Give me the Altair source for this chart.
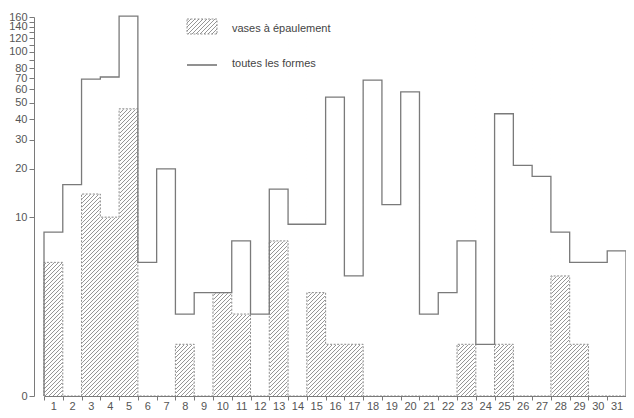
import urllib.parse
import altair as alt
import pandas as pd

# ---- data ----
bins = list(range(1, 32))
totals = [8, 16, 69, 71, 162, 5, 20, 2, 3, 3, 7, 2, 15, 9, 9, 54, 4, 68, 12, 58,
          2, 3, 7, 1, 43, 21, 18, 8, 5, 5, 6]
hatched = [5, 0, 14, 10, 46, 0, 0, 1, 0, 3, 2, 0, 7, 0, 3, 1, 1, 0, 0, 0,
           0, 0, 1, 0, 1, 0, 0, 4, 1, 0, 0]
y_ticks = [0, 10, 20, 30, 40, 50, 60, 70, 80, 90, 100, 110, 120, 130, 140, 150, 160]
y_labels = [0, 10, 20, 30, 40, 50, 60, 70, 80, 100, 120, 140, 160]
legend_labels = ["vases à épaulement", "toutes les formes"]
y_max = 160

W, H = 582, 379
FONT = "Liberation Sans"
LINE = "#7a7a7a"
HATCH = "#8a8a8a"


def hatch_url(w, h, color=HATCH):
    svg = (f"<svg xmlns='http://www.w3.org/2000/svg' width='{w}' height='{h}'>"
           f"<defs><pattern id='h' width='4' height='4' patternUnits='userSpaceOnUse'>"
           f"<path d='M-1,1 L1,-1 M0,4 L4,0 M3,5 L5,3' stroke='{color}' stroke-width='0.9'/>"
           f"</pattern></defs><rect width='{w}' height='{h}' fill='url(#h)'/></svg>")
    return "data:image/svg+xml," + urllib.parse.quote(svg)


def outline(vals):
    xs, ys = [bins[0] - 0.5], [0]
    for b, v in zip(bins, vals):
        xs += [b - 0.5, b + 0.5]
        ys += [v, v]
    xs.append(bins[-1] + 0.5)
    ys.append(0)
    return pd.DataFrame({"x": xs, "y": ys, "i": list(range(len(xs)))})


xs = alt.Scale(domain=[bins[0] - 0.5, bins[-1] + 0.5], nice=False, zero=False)
ys = alt.Scale(type="symlog", constant=1, domain=[0, y_max], nice=False)

half_vals = sorted([b - 0.5 for b in bins] + bins + [bins[-1] + 0.5])

x_axis = alt.Axis(
    values=half_vals, tickCount=500, title=None, grid=False,
    labelExpr="datum.value % 1 === 0 ? format(datum.value, 'd') : ''",
    tickOpacity={"condition": {"test": "datum.value % 1 === 0", "value": 0}, "value": 1},
    tickSize=4, labelPadding=0, labelOverlap=False, labelFlush=False, labelBound=False,
    labelFont=FONT, labelFontSize=11, labelColor="#555",
    domainColor=LINE, tickColor=LINE, zindex=1,
)
lab_list = ",".join(str(v) for v in y_labels)
y_axis = alt.Axis(
    values=y_ticks, tickCount=500, title=None, grid=False, offset=10,
    labelExpr=f"indexof([{lab_list}], datum.value) >= 0 ? format(datum.value, 'd') : ''",
    tickSize=5, labelPadding=2, labelOverlap=False, labelFlush=False, labelBound=False,
    labelFont=FONT, labelFontSize=11, labelColor="#555",
    domainColor=LINE, tickColor=LINE, zindex=1,
)

# hatch texture over the plot area
bg_df = pd.DataFrame({"x": [bins[0] - 0.5], "y": [y_max]})
bg = alt.Chart(bg_df).mark_image(
    width=W, height=H, aspect=False, align="left", baseline="top"
).encode(
    x=alt.X("x:Q", scale=xs, axis=x_axis),
    y=alt.Y("y:Q", scale=ys, axis=y_axis),
    url=alt.value(hatch_url(W, H)),
)

# white masks above the hatched counts
mask_df = pd.DataFrame({
    "x": [b - 0.5 for b in bins], "x2": [b + 0.5 for b in bins],
    "y": hatched, "y2": [y_max * 1.1] * len(bins),
})
mask = alt.Chart(mask_df).mark_rect(fill="white", stroke="white", strokeWidth=1.2).encode(
    x=alt.X("x:Q", scale=xs), x2="x2:Q", y=alt.Y("y:Q", scale=ys), y2="y2:Q",
)

hatch_line = alt.Chart(outline(hatched)).mark_line(
    color="#7c7c7c", strokeWidth=0.9, strokeDash=[2, 1.5]
).encode(x=alt.X("x:Q", scale=xs), y=alt.Y("y:Q", scale=ys), order="i:Q")

total_line = alt.Chart(outline(totals)).mark_line(
    color=LINE, strokeWidth=1.3
).encode(x=alt.X("x:Q", scale=xs), y=alt.Y("y:Q", scale=ys), order="i:Q")

# legend
leg1 = pd.DataFrame({"label": [legend_labels[0]]})
leg2 = pd.DataFrame({"label": [legend_labels[1]]})
sw_img = alt.Chart(leg1).mark_image(
    width=30, height=15, aspect=False, align="left", baseline="top"
).encode(x=alt.value(143), y=alt.value(2), url=alt.value(hatch_url(30, 15)))
sw = alt.Chart(leg1).mark_rect(fill=None, stroke="#7c7c7c", strokeWidth=0.8,
                                strokeDash=[2, 1.5]).encode(
    x=alt.value(143), x2=alt.value(173), y=alt.value(2), y2=alt.value(17))
t1 = alt.Chart(leg1).mark_text(align="left", baseline="middle", font=FONT, fontSize=11,
                                color="#444").encode(x=alt.value(188), y=alt.value(11.5), text="label:N")
ln = alt.Chart(leg2).mark_rule(color="#555", strokeWidth=1.3).encode(
    x=alt.value(143), x2=alt.value(173), y=alt.value(48))
t2 = alt.Chart(leg2).mark_text(align="left", baseline="middle", font=FONT, fontSize=11,
                                color="#444").encode(x=alt.value(188), y=alt.value(46.5), text="label:N")

chart = alt.layer(bg, mask, hatch_line, total_line, sw_img, sw, t1, ln, t2).properties(
    width=W, height=H,
    padding={"left": 36, "top": 9, "right": 0, "bottom": 14},
    autosize=alt.AutoSizeParams(type="none"),
).configure_view(stroke=None)

chart.save("out.html", embed_options={"renderer": "svg", "actions": False})
